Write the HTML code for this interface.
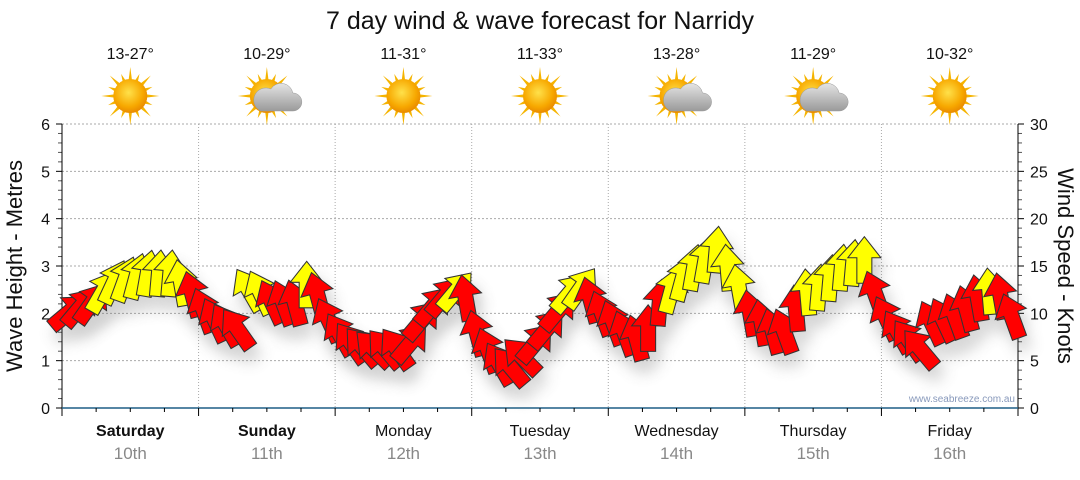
<!DOCTYPE html>
<html><head><meta charset="utf-8"><style>
body{margin:0;background:#fff;font-family:"Liberation Sans","DejaVu Sans",sans-serif}
svg text{font-family:"Liberation Sans","DejaVu Sans",sans-serif}
</style></head><body>
<svg id="c" width="1080" height="475" viewBox="0 0 1080 475" xmlns="http://www.w3.org/2000/svg">
<defs>
<filter id="sh" x="-50%" y="-50%" width="200%" height="200%"><feGaussianBlur stdDeviation="5"/></filter>
<radialGradient id="sun" cx="45%" cy="40%" r="60%"><stop offset="0" stop-color="#ffe14a"/><stop offset="0.7" stop-color="#f7a800"/><stop offset="1" stop-color="#e98a00"/></radialGradient>
<linearGradient id="cloud" x1="0" y1="0" x2="0" y2="1"><stop offset="0" stop-color="#e4e4e4"/><stop offset="1" stop-color="#9a9a9a"/></linearGradient>
</defs>
<text x="540" y="29" text-anchor="middle" font-size="25" fill="#111">7 day wind &amp; wave forecast for Narridy</text>
<g id="grid"></g><g id="axes"></g><g id="header"></g><g id="shadows" opacity="0.3"></g><g id="arrows"></g>
<text transform="translate(22,266) rotate(-90)" text-anchor="middle" font-size="22" fill="#111">Wave Height - Metres</text>
<text transform="translate(1058,266) rotate(90)" text-anchor="middle" font-size="22" fill="#111">Wind Speed - Knots</text>
<text x="1015" y="402" text-anchor="end" font-size="10" fill="#8899bb">www.seabreeze.com.au</text>
</svg>
<script>
const days=["Saturday","Sunday","Monday","Tuesday","Wednesday","Thursday","Friday"];
const dates=["10th","11th","12th","13th","14th","15th","16th"];
const temps=["13-27°","10-29°","11-31°","11-33°","13-28°","11-29°","10-32°"];
const cloudy=[0,1,0,0,1,1,0];
const leftTicks=[0,1,2,3,4,5,6];
const rightTicks=[0,5,10,15,20,25,30];
const windKnots=[10.0,10.5,10.9,12.1,13.1,13.4,13.7,14.0,14.0,14.0,13.0,11.8,
10.1,9.1,8.6,8.2,12.3,12.0,11.0,10.9,10.9,12.8,11.7,9.1,
7.6,6.7,6.3,6.1,6.1,6.1,6.7,9.1,10.6,11.6,12.2,11.4,
7.7,5.9,4.5,4.2,5.3,6.7,8.2,10.1,12.0,12.5,11.2,9.8,
8.8,7.7,7.2,8.2,10.9,12.2,13.5,14.6,15.4,16.5,14.6,12.5,
9.8,8.8,7.9,7.9,10.3,12.0,12.5,13.5,14.6,15.1,15.4,11.9,
9.3,7.9,7.0,6.1,8.8,9.1,9.5,10.3,11.4,12.1,11.6,9.5];
const windDir=[50,40,35,30,25,20,15,10,5,5,-10,-15,
-20,-25,-30,-35,-30,-25,-25,-20,-15,0,-15,-25,
-30,-35,-40,-45,-40,-35,40,40,40,40,40,-10,
-15,-20,-30,-40,-45,40,40,40,40,35,-15,-20,
-20,-20,-15,0,5,15,15,10,10,5,-5,-10,
-10,-10,-15,-20,-5,-5,5,5,5,5,0,-20,
-25,-30,-35,-40,-25,-25,-20,-15,-10,-5,-10,-20];
const NS="http://www.w3.org/2000/svg";
const X0=62,X1=1018,Y0=408,Y1=124;
const xDay=d=>X0+(X1-X0)*d/7;
const yM=m=>Y0-(Y0-Y1)*m/6;
const yK=k=>Y0-(Y0-Y1)*k/30;
const xIdx=i=>X0+(X1-X0)*(i+0.5)/windKnots.length;
function el(t,a,p){const e=document.createElementNS(NS,t);for(const k in a)e.setAttribute(k,a[k]);p.appendChild(e);return e;}
const grid=document.getElementById('grid'),axes=document.getElementById('axes'),hdr=document.getElementById('header');
leftTicks.forEach(v=>{if(v>0){const g=el('line',{x1:X0,x2:X1,y1:yM(v),y2:yM(v),stroke:'#aaa','stroke-dasharray':'2,2'},grid);

}
const t=el('text',{x:50,y:yM(v)+6,'text-anchor':'end','font-size':16,fill:'#111'},axes);t.textContent=v;


el('line',{x1:X0-6,x2:X0,y1:yM(v),y2:yM(v),stroke:'#000'},axes);
for(let s=1;s<5&&v<6;s++)el('line',{x1:X0-4,x2:X0,y1:yM(v+s/5),y2:yM(v+s/5),stroke:'#555'},axes);});
rightTicks.forEach(v=>{const t=el('text',{x:1030,y:yK(v)+6,'font-size':16,fill:'#111'},axes);t.textContent=v;


el('line',{x1:X1,x2:X1+6,y1:yK(v),y2:yK(v),stroke:'#000'},axes);
for(let s=1;s<5&&v<30;s++)el('line',{x1:X1,x2:X1+4,y1:yK(v+s),y2:yK(v+s),stroke:'#555'},axes);});
el('line',{x1:X0,x2:X0,y1:Y1,y2:Y0+8,stroke:'#000'},axes);
el('line',{x1:X1,x2:X1,y1:Y1,y2:Y0+8,stroke:'#000'},axes);
el('line',{x1:X0,x2:X1,y1:Y0,y2:Y0,stroke:'#1f5f85','stroke-width':1.5},axes);
for(let d=0;d<7;d++){
 if(d>0){const g=el('line',{x1:xDay(d),x2:xDay(d),y1:Y1,y2:Y0,stroke:'#aaa','stroke-dasharray':'1,2'},grid);
 
 
 el('line',{x1:xDay(d),x2:xDay(d),y1:Y0,y2:Y0+8,stroke:'#000'},axes);}
 for(let q=1;q<4;q++)el('line',{x1:xDay(d+q/4),x2:xDay(d+q/4),y1:Y0,y2:Y0+4,stroke:'#000'},axes);
 const cx=xDay(d+0.5);
 const a=el('text',{x:cx,y:436,'text-anchor':'middle','font-size':16,fill:'#111','font-weight':d<2?'bold':'normal'},axes);a.textContent=days[d];
 
 
 const b=el('text',{x:cx,y:459,'text-anchor':'middle','font-size':17,fill:'#888'},axes);b.textContent=dates[d];
 
 
 const t=el('text',{x:cx,y:59,'text-anchor':'middle','font-size':16,fill:'#111'},hdr);t.textContent=temps[d];
 
 
 const ic=el('g',{},hdr);
 
 
 const sx=cx,sy=96;
 for(let r=0;r<16;r++){const an=r*Math.PI/8,L=r%2?24:29;
  el('polygon',{points:`${sx+Math.cos(an-0.12)*15},${sy+Math.sin(an-0.12)*15} ${sx+Math.cos(an)*L},${sy+Math.sin(an)*L} ${sx+Math.cos(an+0.12)*15},${sy+Math.sin(an+0.12)*15}`,fill:'#f5b400'},ic);}
 el('circle',{cx:sx,cy:sy,r:17,fill:'url(#sun)'},ic);
 if(cloudy[d]){el('path',{d:`M${sx-6},${sy+15} h32 a9,9 0 0 0 0,-18 a12,12 0 0 0 -22,-4 a10,10 0 0 0 -10,22 z`,fill:'url(#cloud)',stroke:'#999','stroke-width':0.5},ic);}
}
const sh=document.getElementById('shadows'),ar=document.getElementById('arrows');
const pts="0,-17 11,-3 5,-3 5,14 -5,14 -5,-3 -11,-3";
windKnots.forEach((k,i)=>{const x=xIdx(i),y=yK(k),r=windDir[i];
 const s=el('polygon',{points:pts,transform:`translate(${x+5},${y+12}) rotate(${r}) scale(1.5)`,fill:'#666',filter:'url(#sh)'},sh);
 
 
 const p=el('polygon',{points:pts,transform:`translate(${x},${y}) rotate(${r}) scale(1.5)`,fill:k>=12?'#ffff00':'#ff0000',stroke:'#333','stroke-width':0.7},ar);
 
 
});
</script>
</body></html>
